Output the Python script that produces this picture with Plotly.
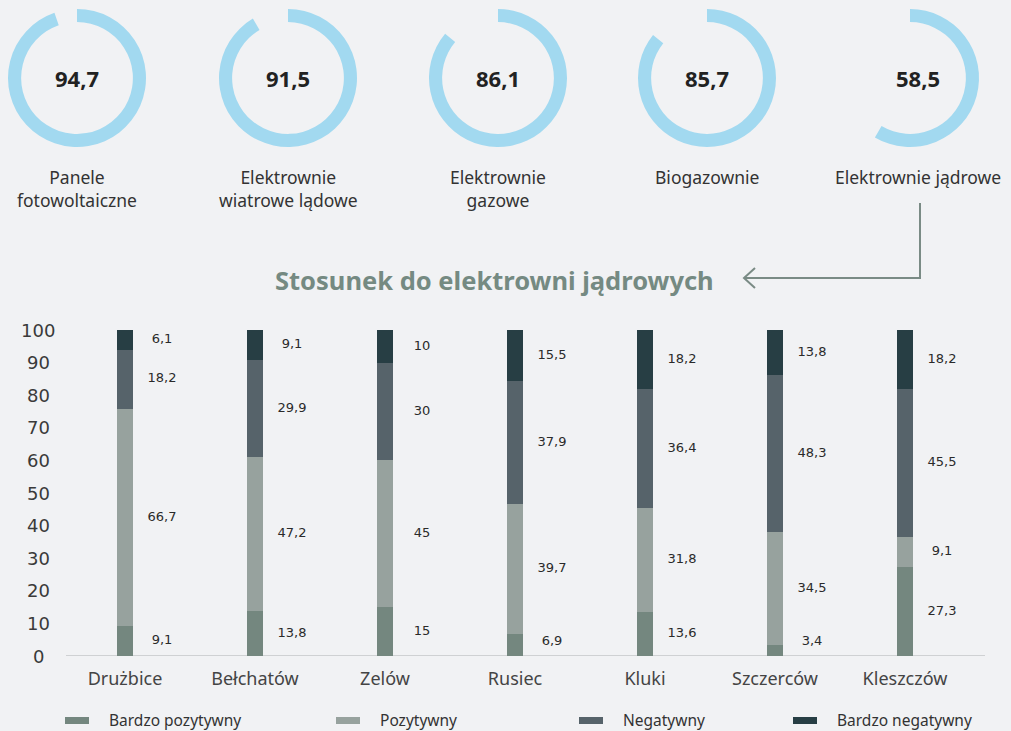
import plotly.graph_objects as go

W, H = 1011, 731

# --- top rings -------------------------------------------------------------
ring_values = [94.7, 91.5, 86.1, 85.7, 58.5]
ring_text = ["94,7", "91,5", "86,1", "85,7", "58,5"]
ring_labels = [
    "Panele<br>fotowoltaiczne",
    "Elektrownie<br>wiatrowe lądowe",
    "Elektrownie<br>gazowe",
    "Biogazownie",
    "Elektrownie jądrowe",
]

# --- stacked bars ----------------------------------------------------------
places = ["Drużbice", "Bełchatów", "Zelów", "Rusiec", "Kluki", "Szczerców", "Kleszczów"]
series_names = ["Bardzo pozytywny", "Pozytywny", "Negatywny", "Bardzo negatywny"]
very_positive = [9.1, 13.8, 15, 6.9, 13.6, 3.4, 27.3]
positive = [66.7, 47.2, 45, 39.7, 31.8, 34.5, 9.1]
negative = [18.2, 29.9, 30, 37.9, 36.4, 48.3, 45.5]
very_negative = [6.1, 9.1, 10, 15.5, 18.2, 13.8, 18.2]
y_ticks = [0, 10, 20, 30, 40, 50, 60, 70, 80, 90, 100]

BG = "#f1f2f4"
RING = "#a2d9f0"
COLORS = ["#74877f", "#97a29e", "#56636a", "#273e44"]
ACCENT = "#7a8b85"
TEXT = "#333333"


def px(x):
    return x / W


def py(y):
    return 1 - y / H


fig = go.Figure()

# rings (pie with hole, second slice transparent)
ring_cx = [77, 288, 498, 707, 910]
label_cx = [77, 288, 498, 707, 918]
ring_cy, ring_r = 78, 69
for i, v in enumerate(ring_values):
    cx = ring_cx[i]
    fig.add_trace(
        go.Pie(
            values=[v, 100 - v],
            hole=0.81,
            sort=False,
            direction="clockwise",
            rotation=0,
            marker={"colors": [RING, "rgba(0,0,0,0)"], "line": {"width": 0}},
            textinfo="none",
            hoverinfo="skip",
            showlegend=False,
            domain={
                "x": [px(cx - ring_r), px(cx + ring_r)],
                "y": [py(ring_cy + ring_r), py(ring_cy - ring_r)],
            },
        )
    )
    fig.add_annotation(
        x=px(label_cx[i]), y=py(ring_cy), xref="paper", yref="paper",
        text=f"<b>{ring_text[i]}</b>", showarrow=False,
        font={"family": "Noto Sans", "size": 22, "color": "#222222"},
        xanchor="center", yanchor="middle",
    )
    fig.add_annotation(
        x=px(label_cx[i]), y=py(163), xref="paper", yref="paper",
        text=ring_labels[i], showarrow=False, align="center",
        font={"family": "Noto Sans", "size": 17.5, "color": TEXT},
        xanchor="center", yanchor="top",
    )

# stacked bars
xs = list(range(len(places)))
series = [very_positive, positive, negative, very_negative]
for name, vals, col in zip(series_names, series, COLORS):
    fig.add_trace(
        go.Bar(
            x=xs, y=vals, name=name, width=0.13,
            marker={"color": col, "line": {"width": 0}},
            showlegend=False, hoverinfo="x+y+name",
        )
    )

# value labels at segment midpoints, to the right of each bar
lab_x, lab_y, lab_t = [], [], []
for j in xs:
    base = 0
    for vals in series:
        mid = max(base + vals[j] / 2, 4.5)
        lab_x.append(j + 0.285)
        lab_y.append(mid)
        lab_t.append(f"{vals[j]:g}".replace(".", ","))
        base += vals[j]
fig.add_trace(
    go.Scatter(
        x=lab_x, y=lab_y, text=lab_t, mode="text",
        textfont={"family": "DejaVu Sans", "size": 13, "color": "#2a2a2a"},
        textposition="middle center", showlegend=False, hoverinfo="skip",
    )
)

# y tick labels, centred like the original
for t in y_ticks:
    fig.add_annotation(
        x=px(38), y=t, xref="paper", yref="y", text=str(t), showarrow=False,
        font={"family": "DejaVu Sans", "size": 18, "color": "#3a3a3a"},
        xanchor="center", yanchor="middle",
    )

fig.update_layout(
    width=W, height=H,
    margin={"l": 0, "r": 0, "t": 0, "b": 0},
    paper_bgcolor=BG, plot_bgcolor=BG,
    barmode="stack", bargap=0,
    xaxis={
        "domain": [px(60), px(970)], "range": [-0.5, 6.5],
        "tickmode": "array", "tickvals": xs, "ticktext": places,
        "showgrid": False, "zeroline": False, "showline": False, "ticks": "",
        "ticklabelstandoff": 10,
        "tickfont": {"family": "Noto Sans", "size": 18, "color": "#444444"},
        "fixedrange": True,
    },
    yaxis={
        "domain": [py(656), py(330)], "range": [0, 100],
        "showgrid": False, "zeroline": False, "showline": False,
        "showticklabels": False, "ticks": "", "fixedrange": True,
    },
)

# baseline
fig.add_shape(type="line", xref="paper", yref="y", x0=px(66), x1=px(985), y0=0, y1=0,
              line={"color": "#c3c6c8", "width": 1.5}, layer="below")

# title
fig.add_annotation(
    x=px(494), y=py(280), xref="paper", yref="paper",
    text="<b>Stosunek do elektrowni jądrowych</b>", showarrow=False,
    font={"family": "Noto Sans", "size": 25.5, "color": "#758a82"},
    xanchor="center", yanchor="middle",
)

# connector arrow from the nuclear ring to the title
fig.add_shape(
    type="path", xref="paper", yref="paper",
    path=f"M {px(920)},{py(203)} L {px(920)},{py(278)} L {px(744)},{py(278)}",
    line={"color": ACCENT, "width": 2},
)
fig.add_shape(
    type="path", xref="paper", yref="paper",
    path=f"M {px(755)},{py(268)} L {px(744)},{py(278)} L {px(755)},{py(288)}",
    line={"color": ACCENT, "width": 2},
)

# legend
sw_x = [65, 336, 579, 793]
for name, col, x0 in zip(series_names, COLORS, sw_x):
    fig.add_shape(type="rect", xref="paper", yref="paper",
                  x0=px(x0), x1=px(x0 + 24), y0=py(724), y1=py(717),
                  fillcolor=col, line={"width": 0})
    fig.add_annotation(
        x=px(x0 + 42), y=py(720), xref="paper", yref="paper", text=name,
        showarrow=False, xanchor="left", yanchor="middle",
        font={"family": "Noto Sans", "size": 15.5, "color": TEXT},
    )

fig.write_html(
    "out.html",
    config={"displayModeBar": False},
    post_script=f"document.body.style.margin='0';document.body.style.background='{BG}';",
)
